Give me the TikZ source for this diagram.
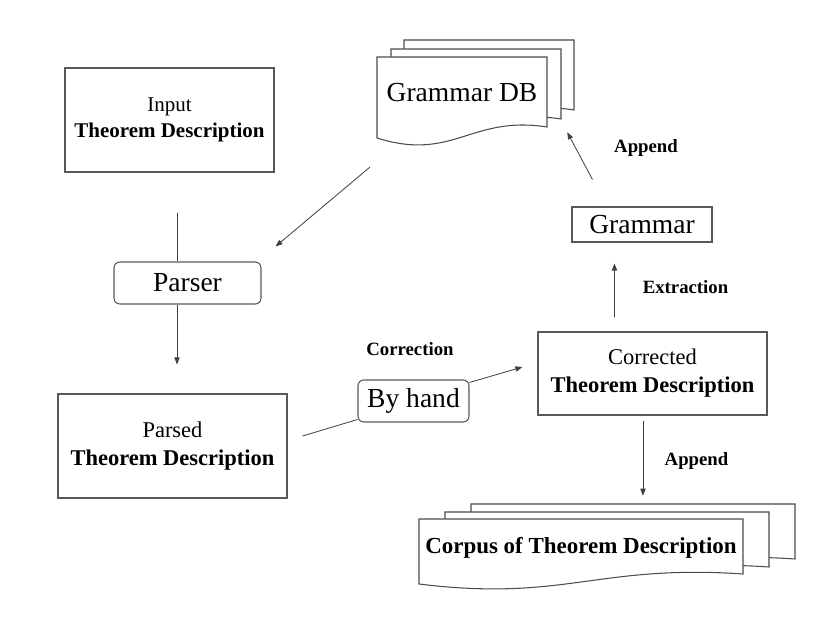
\documentclass[tikz,border=0pt]{standalone}
\usepackage{fontspec}
\setmainfont{Liberation Serif}
\usetikzlibrary{arrows.meta, calc}

\begin{document}
\begin{tikzpicture}[
  x=0.03cm, y=-0.03cm,
  % ---- Box styles ----
  box/.style={draw=black!65, line width=0.9pt, rectangle, align=center, inner sep=0pt},
  rbox/.style={box, rounded corners=5pt},
  page/.style={draw=black!70, line width=0.9pt, fill=white},
  % ---- Text styles ----
  big/.style={font=\fontsize{23.5}{28}\selectfont},
  small/.style={font=\fontsize{17.9}{22.2}\selectfont},
  desc/.style={font=\fontsize{19.2}{23.9}\selectfont},
  lbl/.style={font=\fontsize{16}{19}\selectfont\bfseries, inner sep=0pt},
  % ---- Connector styles ----
  ln/.style ={black!75, line width=0.7pt},
  arr/.style={ln, -{Triangle[length=6pt, width=4.5pt]}},
]
\useasboundingbox (0,0) rectangle (831,628);

% ---- Stacked pages (back to front) ----
\foreach \dx/\dy in {27/-17, 14/-8, 0/0}
  \draw[page, shift={(\dx,\dy)}] (377,57) -- (547,57) -- (547,127)
    .. controls +(-76,-12) and +(76,24) .. (377,138) -- cycle;
\foreach \dx/\dy in {52/-15, 26/-7, 0/0}
  \draw[page, shift={(\dx,\dy)}] (419,519) -- (743,519) -- (743,574)
    .. controls +(-146,-10) and +(146,18) .. (419,584) -- cycle;

% ---- Nodes ----
\node[big, minimum width=5.1cm, minimum height=2.43cm, inner sep=0pt] (gdb) at (462,93) {Grammar DB};
\node[box, small, minimum width=6.27cm, minimum height=3.12cm] (input) at (169.5,120)
  {Input\\\textbf{Theorem Description}};
\node[rbox, big, minimum width=4.41cm, minimum height=1.26cm] (parser) at (187.5,283) {Parser};
\node[box, desc, minimum width=6.87cm, minimum height=3.12cm] (parsed) at (172.5,446)
  {Parsed\\\textbf{Theorem Description}};
\node[rbox, big, minimum width=3.33cm, minimum height=1.26cm] (byhand) at (413.5,401) {By hand};
\node[box, big, minimum width=4.2cm, minimum height=1.05cm] (grammar) at (642,224.5) {Grammar};
\node[box, desc, minimum width=6.87cm, minimum height=2.49cm] (corr) at (652.5,373.5)
  {Corrected\\\textbf{Theorem Description}};
\node[font=\fontsize{19.6}{24}\selectfont\bfseries, minimum width=9.72cm, minimum height=1.95cm,
  inner sep=0pt] (corpus) at (581,548) {Corpus of Theorem Description};

% ---- Labels ----
\node[lbl] (lappA) at (646,148) {Append};
\node[lbl] (lextr) at (685.5,287) {Extraction};
\node[lbl] (lcorr) at (410,349) {Correction};
\node[lbl] (lappB) at (696.5,461) {Append};

% ---- Connectors ----
\coordinate (instart) at (177,213);
\draw[ln] (instart) -- (instart |- parser.north);
\draw[arr] (parser.south -| instart) -- ($(parsed.north -| instart)+(0,-29)$);
\draw[arr] ($(gdb.south west)+(-7,33.5)$) -- ($(parser.north east)+(14,-15)$);
\draw[ln] ($(parsed.east)+(15,-10)$) -- ($(byhand.south west)+(0,-3)$);
\draw[arr] ($(byhand.north east)+(0,3)$) -- ($(corr.west)+(-15,-6.5)$);
\draw[arr] ($(corr.north west)+(77,-14)$) -- ($(grammar.south west)+(43,21)$);
\draw[arr] ($(grammar.north west)+(21,-27)$) -- ($(gdb.south east)+(20,-1.5)$);
\draw[arr] ($(corr.south)+(-9.5,5)$) -- ($(corpus.north)+(62,-19.5)$);
\end{tikzpicture}
\end{document}
